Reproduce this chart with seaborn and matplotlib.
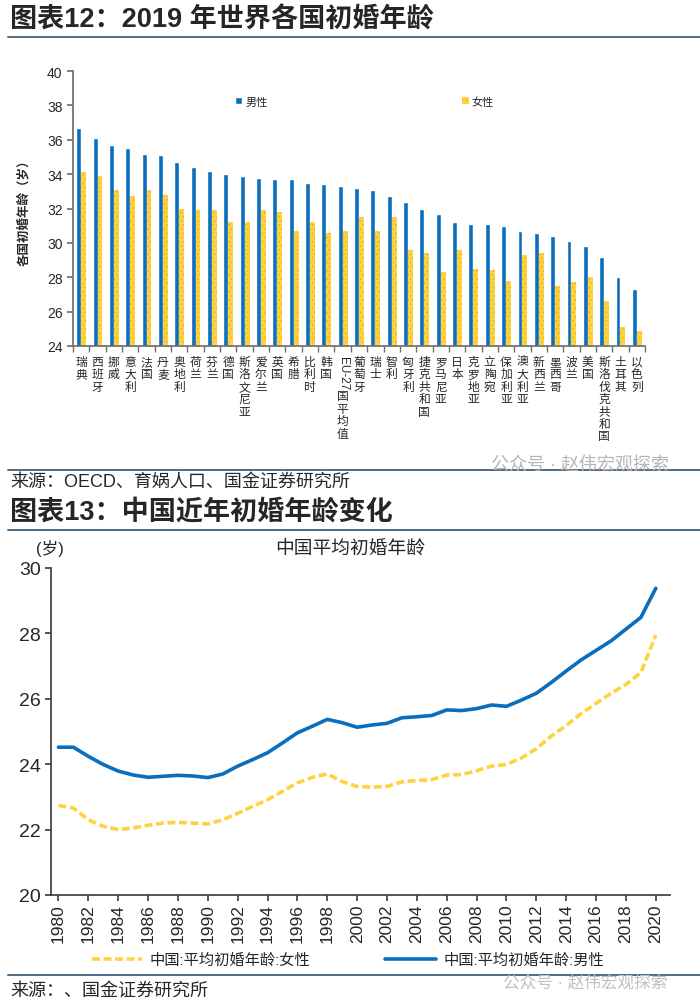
import matplotlib
matplotlib.use("Agg")
import matplotlib.pyplot as plt
from matplotlib.lines import Line2D
from matplotlib.patches import Patch
from matplotlib.ticker import FixedLocator
import pandas as pd
import seaborn as sns

# 图表12 data (OECD 2019)
countries = ["瑞典", "西班牙", "挪威", "意大利", "法国", "丹麦", "奥地利", "荷兰", "芬兰", "德国",
             "斯洛文尼亚", "爱尔兰", "英国", "希腊", "比利时", "韩国", "EU-27国平均值", "葡萄牙", "瑞士",
             "智利", "匈牙利", "捷克共和国", "罗马尼亚", "日本", "克罗地亚", "立陶宛", "保加利亚",
             "澳大利亚", "新西兰", "墨西哥", "波兰", "美国", "斯洛伐克共和国", "土耳其", "以色列"]
male_age = [36.7, 36.1, 35.7, 35.5, 35.2, 35.1, 34.7, 34.4, 34.2, 34.0,
            33.9, 33.8, 33.7, 33.7, 33.5, 33.4, 33.3, 33.2, 33.1,
            32.7, 32.4, 32.0, 31.7, 31.2, 31.1, 31.1, 31.0,
            30.7, 30.6, 30.4, 30.1, 29.8, 29.2, 28.0, 27.3]
female_age = [34.1, 33.9, 33.1, 32.7, 33.1, 32.8, 32.0, 31.9, 31.9, 31.2,
              31.2, 31.9, 31.8, 30.7, 31.2, 30.6, 30.7, 31.5, 30.7,
              31.5, 29.6, 29.4, 28.3, 29.6, 28.5, 28.4, 27.8,
              29.3, 29.4, 27.5, 27.7, 28.0, 26.6, 25.1, 24.9]

# 图表13 data
years = list(range(1980, 2021))
china_male = [24.52, 24.52, 24.24, 23.99, 23.79, 23.67, 23.60, 23.63, 23.66, 23.64,
              23.59, 23.70, 23.94, 24.14, 24.35, 24.65, 24.96, 25.16, 25.37, 25.27,
              25.13, 25.20, 25.25, 25.42, 25.45, 25.49, 25.66, 25.64, 25.70, 25.81,
              25.77, 25.96, 26.17, 26.50, 26.85, 27.19, 27.48, 27.77, 28.13, 28.49,
              29.38]
china_female = [22.74, 22.66, 22.30, 22.10, 22.00, 22.05, 22.13, 22.20, 22.22, 22.20,
                22.17, 22.30, 22.50, 22.71, 22.91, 23.17, 23.43, 23.60, 23.70, 23.47,
                23.32, 23.30, 23.32, 23.46, 23.50, 23.53, 23.67, 23.68, 23.80, 23.94,
                23.99, 24.19, 24.47, 24.86, 25.18, 25.55, 25.86, 26.17, 26.44, 26.80,
                27.95]

BLUE = "#0A6EBD"
YELLOW = "#FFD23F"
RULE = "#4E6A85"
W, H = 700, 1003

sns.set_theme(style="white")
plt.rcParams["font.family"] = ["Liberation Sans", "Noto Sans CJK SC"]
plt.rcParams["axes.unicode_minus"] = False
plt.rcParams["hatch.linewidth"] = 0.6

fig = plt.figure(figsize=(7, 10.03), dpi=100)


def fx(x):
    return x / W


def fy(y):
    return 1 - y / H


def rule(y):
    fig.add_artist(Line2D([fx(8), fx(700)], [fy(y), fy(y)], color=RULE, lw=1.4))


# headers, rules, sources
fig.text(fx(10), fy(20), "图表12：2019 年世界各国初婚年龄", fontsize=19.5, fontweight="bold",
         va="center", ha="left")
rule(38)
rule(471)
fig.text(fx(10), fy(482), "来源：OECD、育娲人口、国金证券研究所", fontsize=13, va="center")
fig.text(fx(10), fy(513), "图表13：中国近年初婚年龄变化", fontsize=19.5, fontweight="bold",
         va="center", ha="left")
rule(531)
rule(976)
fig.text(fx(10), fy(991), "来源：、国金证券研究所", fontsize=13, va="center")
fig.text(fx(580), fy(466), "公众号 · 赵伟宏观探索", fontsize=13, color="#B5B5B5",
         ha="center", va="center")
fig.text(fx(585), fy(983), "公众号 · 赵伟宏观探索", fontsize=12, color="#C0C0C0",
         ha="center", va="center")

# ---- top chart: bars ----
ax1 = fig.add_axes([fx(73), fy(347), fx(645 - 73), (347 - 72) / H])
bar_df = pd.DataFrame({
    "国家": countries * 2,
    "年龄": male_age + female_age,
    "性别": ["男性"] * len(countries) + ["女性"] * len(countries),
})
sns.barplot(data=bar_df, x="国家", y="年龄", hue="性别", palette=[BLUE, YELLOW],
            width=0.6, saturation=1, ax=ax1, legend=False)
for p in ax1.containers[1]:
    p.set_hatch("....")
    p.set_edgecolor("#F2B400")
    p.set_linewidth(0)

ax1.set_ylim(24, 40)
ax1.set_yticks(range(24, 41, 2))
ax1.set_xlim(-0.5, len(countries) - 0.5)
ax1.set_xlabel("")
ax1.set_ylabel("各国初婚年龄（岁）", fontsize=9, fontweight="bold")
ax1.yaxis.set_label_coords(-43 / 572, 0.5)
ax1.set_xticks(range(len(countries)))
eu_idx = countries.index("EU-27国平均值")
ax1.set_xticklabels(["" if c.startswith("EU") else "\n".join(c) for c in countries],
                    fontsize=8.5, linespacing=1.05)
ax1.tick_params(axis="x", length=0, pad=7)
ax1.xaxis.set_minor_locator(FixedLocator([i - 0.5 for i in range(len(countries) + 1)]))
ax1.tick_params(axis="x", which="minor", length=4, direction="out", color="#707070", bottom=True)
ax1.tick_params(axis="y", length=4, direction="out", color="#707070", left=True, labelsize=10)
ax1.annotate("EU-27", xy=(eu_idx, 0), xycoords=("data", "axes fraction"), xytext=(0, -7),
             textcoords="offset points", rotation=-90, ha="center", va="top", fontsize=8.5)
ax1.annotate("国\n平\n均\n值", xy=(eu_idx, 0), xycoords=("data", "axes fraction"),
             xytext=(0, -32), textcoords="offset points", ha="center", va="top",
             fontsize=8.5, linespacing=1.05)
sns.despine(ax=ax1)
for s in ("left", "bottom"):
    ax1.spines[s].set_color("#707070")

ax1.legend(handles=[Patch(facecolor=BLUE), Patch(facecolor=YELLOW, hatch="....", edgecolor="#F2B400", lw=0)],
           labels=["男性", "女性"], ncol=2, loc="center", bbox_to_anchor=(0.51, 0.89),
           frameon=False, fontsize=8, handlelength=0.6, handleheight=0.6,
           handletextpad=0.3, columnspacing=17.5)

# ---- bottom chart: lines ----
ax2 = fig.add_axes([fx(51), fy(896), fx(670 - 51), (896 - 569) / H])
sns.lineplot(x=years, y=china_male, color=BLUE, lw=2.6, ax=ax2)
sns.lineplot(x=years, y=china_female, color=YELLOW, lw=2.6, ax=ax2)
ax2.lines[1].set_linestyle((0, (2.2, 1.0)))
ax2.set_xlim(1979.5, 2020.95)
ax2.set_ylim(20, 30)
ax2.set_yticks(range(20, 31, 2))
ax2.set_xticks(range(1980, 2021, 2))
ax2.tick_params(axis="x", rotation=90, labelsize=12.5, length=4, direction="out",
                color="#404040", bottom=True, pad=2)
ax2.tick_params(axis="y", labelsize=14, length=4, direction="out", color="#404040", left=True)
sns.despine(ax=ax2)
for s in ("left", "bottom"):
    ax2.spines[s].set_color("#404040")

fig.text(fx(50), fy(549), "(岁)", fontsize=12, ha="center", va="center")
fig.text(fx(350), fy(549), "中国平均初婚年龄", fontsize=13.5, ha="center", va="center")

fig.legend(handles=[Line2D([], [], color=YELLOW, lw=2.6, ls=(0, (2.2, 1.0))),
                    Line2D([], [], color=BLUE, lw=2.6)],
           labels=["中国:平均初婚年龄:女性", "中国:平均初婚年龄:男性"],
           loc="center", bbox_to_anchor=(fx(348), fy(961)), ncol=2, frameon=False,
           fontsize=11, handlelength=3.3, columnspacing=4.9, handletextpad=0.5)

fig.savefig("out.png", dpi=100)
